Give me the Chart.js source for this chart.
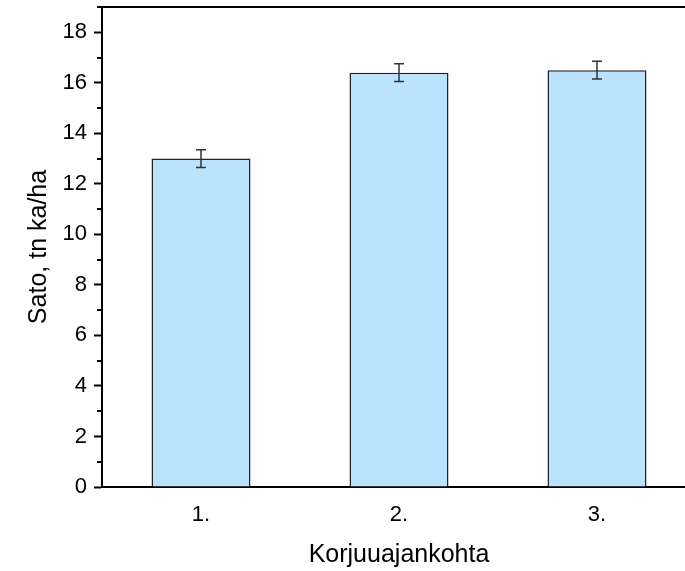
<!DOCTYPE html>
<html>
<head>
<meta charset="utf-8">
<script src="https://cdn.jsdelivr.net/npm/chart.js@4"></script>
<style>
  html, body { margin: 0; padding: 0; background: #fff; overflow: hidden; }
  #wrap { width: 696px; height: 571px; position: relative; }
</style>
</head>
<body>
<div id="wrap"><canvas id="chart"></canvas></div>
<script>
// Harvest timing vs. yield (dry matter, t/ha), mean ± error
const categories = ['1.', '2.', '3.'];
const yieldMeans = [13.0, 16.4, 16.5];
const yieldErrors = [0.35, 0.35, 0.35];
const yTicks = [0, 2, 4, 6, 8, 10, 12, 14, 16, 18];
const yMinorTicks = [1, 3, 5, 7, 9, 11, 13, 15, 17];

const FONT = '"Liberation Sans", Arial, sans-serif';

// Error bars drawn from the dataset values through the y scale
const errorBarPlugin = {
  id: 'errorBars',
  afterDatasetsDraw(chart) {
    const ctx = chart.ctx;
    const y = chart.scales.y;
    const meta = chart.getDatasetMeta(0);
    ctx.save();
    ctx.strokeStyle = '#333';
    ctx.lineWidth = 1.5;
    meta.data.forEach((bar, i) => {
      const x = bar.x;
      const top = y.getPixelForValue(yieldMeans[i] + yieldErrors[i]);
      const bot = y.getPixelForValue(yieldMeans[i] - yieldErrors[i]);
      const cap = 5;
      ctx.beginPath();
      ctx.moveTo(x, top); ctx.lineTo(x, bot);
      ctx.moveTo(x - cap, top); ctx.lineTo(x + cap, top);
      ctx.moveTo(x - cap, bot); ctx.lineTo(x + cap, bot);
      ctx.stroke();
    });
    ctx.restore();
  }
};

// Minor ticks on the y axis and the top frame line
const framePlugin = {
  id: 'frame',
  afterDraw(chart) {
    const ctx = chart.ctx;
    const y = chart.scales.y;
    const area = chart.chartArea;
    ctx.save();
    ctx.strokeStyle = '#000';
    ctx.lineWidth = 2;
    ctx.beginPath();
    yMinorTicks.forEach(v => {
      const py = Math.round(y.getPixelForValue(v));
      ctx.moveTo(area.left - 5, py);
      ctx.lineTo(area.left, py);
    });
    ctx.moveTo(area.left - 5, area.top);
    ctx.lineTo(area.right, area.top);
    ctx.stroke();
    ctx.restore();
  }
};

new Chart(document.getElementById('chart'), {
  type: 'bar',
  data: {
    labels: categories,
    datasets: [{
      data: yieldMeans,
      backgroundColor: 'rgb(187,227,253)',
      borderColor: '#222',
      borderWidth: 1.5,
      barPercentage: 0.5,
      categoryPercentage: 1.0
    }]
  },
  options: {
    responsive: true,
    maintainAspectRatio: false,
    animation: false,
    layout: { padding: { top: 7, right: 0, bottom: 0, left: 0 } },
    plugins: {
      legend: { display: false },
      tooltip: { enabled: false }
    },
    scales: {
      x: {
        offset: true,
        grid: { display: true, drawOnChartArea: false, drawTicks: false, color: '#000' },
        border: { display: true, color: '#000', width: 2 },
        ticks: { color: '#000', font: { family: FONT, size: 22 }, padding: 15, maxRotation: 0 },
        title: { display: true, text: 'Korjuuajankohta', color: '#000', font: { family: FONT, size: 25 }, padding: { top: 0, bottom: 1 } },
        afterFit(scale) { scale.height = 84; scale.paddingLeft = 0; scale.paddingRight = 0; }
      },
      y: {
        min: 0,
        max: 19,
        afterBuildTicks(scale) { scale.ticks = yTicks.map(v => ({ value: v })); },
        grid: { display: true, drawOnChartArea: false, drawTicks: true, tickLength: 8, tickWidth: 2, color: '#000' },
        border: { display: true, color: '#000', width: 2 },
        ticks: { color: '#000', font: { family: FONT, size: 22 }, padding: 7 },
        title: { display: true, text: 'Sato, tn ka/ha', color: '#000', font: { family: FONT, size: 25 }, padding: { top: 24, bottom: 0 } },
        afterFit(scale) { scale.width = 102; scale.paddingTop = 0; scale.paddingBottom = 0; }
      }
    }
  },
  plugins: [errorBarPlugin, framePlugin]
});
</script>
</body>
</html>
